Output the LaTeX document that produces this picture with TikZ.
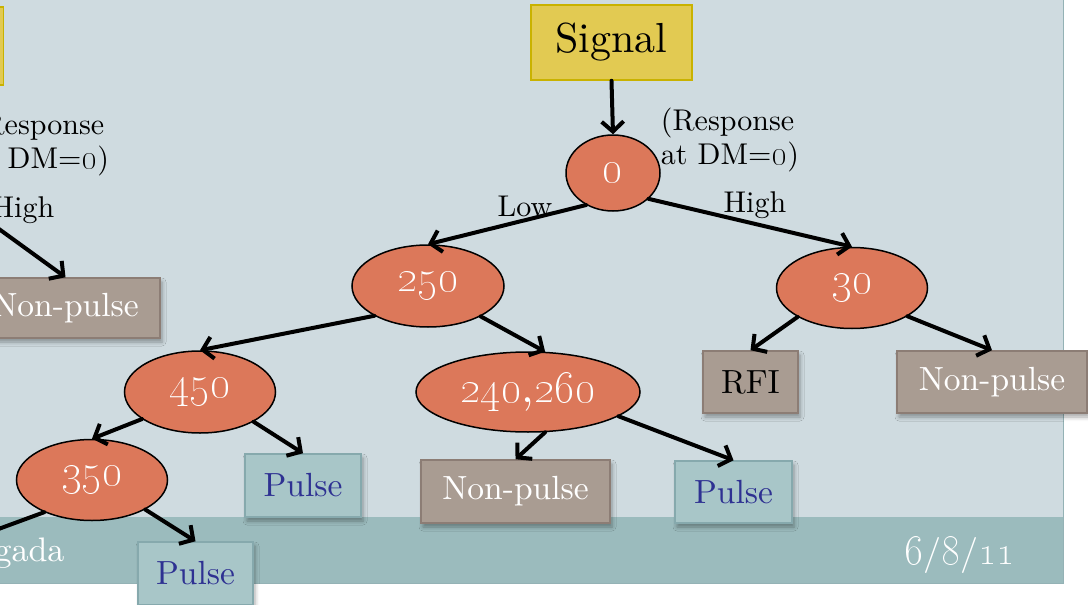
\documentclass[tikz,border=0pt]{standalone}
\usepackage{graphicx}
\usepackage{fontspec}
\setmainfont{lmroman10-regular.otf}
\usetikzlibrary{arrows.meta,shapes.geometric,shadows.blur}
\definecolor{slidebg}{HTML}{CFDBE0}
\definecolor{footband}{HTML}{9BBBBD}
\definecolor{slideedge}{HTML}{94B2B5}
\definecolor{dmfill}{HTML}{DC785A}
\definecolor{npfill}{HTML}{A99C92}
\definecolor{npedge}{HTML}{8C7D75}
\definecolor{pfill}{HTML}{A8C6C8}
\definecolor{pedge}{HTML}{86A9AD}
\definecolor{ptext}{HTML}{2E3192}
\definecolor{sigfill}{HTML}{E2CA52}
\definecolor{sigedge}{HTML}{C9B200}
% old-style figures: digits set in the TS1 encoding
\newcommand\osf[1]{{\fontencoding{TS1}\fontfamily{lmr}\selectfont #1}}
% enlarged old-style figures
\newcommand\dmval[1]{\scalebox{1.27}{\osf{#1}}}
\newcommand\txtval[1]{\scalebox{1.18}{\osf{#1}}}
\tikzset{
  dm/.style={ellipse, draw=black, line width=1.5pt, fill=dmfill, text=white,
    inner sep=0pt, font=\fontsize{36}{40}\selectfont},
  leafbox/.style={rectangle, line width=1.5pt, inner sep=0pt,
    font=\fontsize{33.5}{38}\selectfont,
    blur shadow={shadow xshift=2pt, shadow yshift=-4pt, shadow blur radius=4pt, shadow opacity=35}},
  nonpulse/.style={leafbox, fill=npfill, draw=npedge, text=white},
  pulsebox/.style={leafbox, fill=pfill, draw=pedge, text=ptext},
  rfibox/.style={leafbox, fill=npfill, draw=npedge, text=black},
  sigbox/.style={rectangle, fill=sigfill, draw=sigedge, line width=1.5pt,
    minimum width=161pt, minimum height=75pt, font=\fontsize{42}{46}\selectfont},
  edge/.style={line width=4pt, line cap=round, -{Straight Barb[length=10pt,width=22pt]}},
  lbl/.style={font=\fontsize{30}{34}\selectfont, inner sep=0pt},
}
\begin{document}
\begin{tikzpicture}[x=1pt,y=-1pt]
\useasboundingbox (0,0) rectangle (1088,605);
\begin{scope}
\clip (0,0) rectangle (1088,605);
% slide and footer band
\fill[slidebg] (0,0) rectangle (1063,583);
\fill[footband] (0,517) rectangle (1063,583);
\draw[slideedge, line width=1pt] (1063,0) -- (1063,583) -- (0,583);

% footer texts
\node[anchor=east, text=white, font=\fontsize{34}{38}\selectfont] (author) at (68,553) {gada};
\node[text=white, font=\fontsize{36}{40}\selectfont] (date) at (960,555) {\txtval{6}/\txtval{8}/\txtval{11}};

% partially visible left tree
\node[sigbox, minimum height=78pt] (lsig) at (-77,46) {};
\node[lbl, align=left] (lresp) at (40,144) {(Response\\at DM=\txtval{0})};
\node[lbl] (lhigh) at (23,210) {High};
\coordinate (lroot) at (-30,208);
\node[nonpulse, minimum width=189pt, minimum height=60pt] (lnp) at (65.5,308) {Non-pulse};
\draw[edge] (lroot) -- (lnp.north);

% main tree
\node[sigbox] (sig) at (611.5,42.5) {Signal};
\node[dm, minimum width=94pt, minimum height=76pt] (root) at (613,173) {\dmval{0}};
\node[lbl, align=left] (resp) at (730,140) {(Response\\at DM=\txtval{0})};
\node[lbl] (low) at (525,206) {Low};
\node[lbl] (high) at (755,205) {High};

\node[dm, minimum width=152pt, minimum height=82pt] (b250) at (428,286) {\dmval{250}};
\node[dm, minimum width=151pt, minimum height=81pt] (b30) at (852,288) {\dmval{30}};
\node[dm, minimum width=151pt, minimum height=82pt] (b450) at (200,392) {\dmval{450}};
\node[dm, minimum width=224pt, minimum height=80pt] (b240) at (528,392) {\scalebox{1.27}{\osf{240},\osf{260}}};
\node[dm, minimum width=151pt, minimum height=81pt] (b350) at (92,480) {\dmval{350}};
\coordinate (lleaf) at (-45,545);

\node[rfibox, minimum width=95pt, minimum height=62pt] (rfi) at (750.5,382) {RFI};
\node[nonpulse, minimum width=190pt, minimum height=62pt] (np1) at (992,382) {Non-pulse};
\node[pulsebox, minimum width=116pt, minimum height=63pt] (p1) at (303,485.5) {Pulse};
\node[pulsebox, minimum width=115pt, minimum height=63pt] (p2) at (195.5,573.5) {Pulse};
\node[nonpulse, minimum width=189pt, minimum height=63pt] (np2) at (515.5,491.5) {Non-pulse};
\node[pulsebox, minimum width=117pt, minimum height=62pt] (p3) at (733.5,492) {Pulse};

\draw[edge] (sig.south) -- (root.north);
\draw[edge] (root.230) -- (b250.north);
\draw[edge] (root.-36) -- (b30.north);
\draw[edge] (b250.209) -- (b450.north);
\draw[edge] (b250.-30) -- (b240.67);
\draw[edge] (b30.208) -- (rfi.north);
\draw[edge] (b30.-27) -- (np1.north);
\draw[edge] (b450.205) -- (b350.north);
\draw[edge] (b450.-29) -- (p1.north);
\draw[edge] (b350.214) -- (lleaf);
\draw[edge] (b350.-29) -- (p2.north);
\draw[edge] (b240.-67) -- (np2.north);
\draw[edge] (b240.-15) -- (p3.north);
\end{scope}
\end{tikzpicture}
\end{document}
